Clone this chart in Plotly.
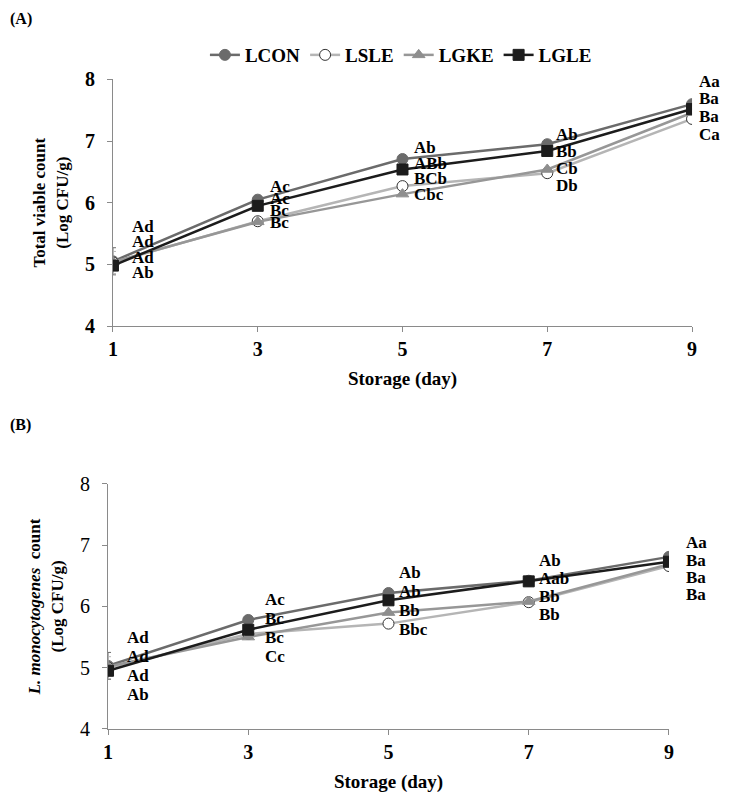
import plotly.graph_objects as go
from plotly.subplots import make_subplots

days = [1, 3, 5, 7, 9]
groups = ["LCON", "LSLE", "LGKE", "LGLE"]

# (A) total viable count, Log CFU/g
tvc_lcon = [5.05, 6.05, 6.71, 6.95, 7.60]
tvc_lsle = [5.03, 5.70, 6.27, 6.48, 7.36]
tvc_lgke = [5.04, 5.69, 6.14, 6.54, 7.46]
tvc_lgle = [4.98, 5.95, 6.54, 6.84, 7.52]
tvc_err_lcon = [0.22, 0.07, 0.03, 0.03, 0.03]
tvc_err_lsle = [0.18, 0.04, 0.03, 0.03, 0.03]

# (B) L. monocytogenes count, Log CFU/g
lm_lcon = [5.03, 5.78, 6.22, 6.42, 6.81]
lm_lsle = [5.00, 5.55, 5.72, 6.07, 6.66]
lm_lgke = [5.02, 5.50, 5.90, 6.08, 6.69]
lm_lgle = [4.95, 5.62, 6.10, 6.41, 6.73]
lm_err_lcon = [0.22, 0.07, 0.03, 0.03, 0.03]
lm_err_lsle = [0.18, 0.04, 0.03, 0.03, 0.03]

# significance letters, one list per group
tvc_letters = [
    ["Ad", "Ac", "Ab", "Ab", "Aa"],
    ["Ad", "Bc", "BCb", "Db", "Ca"],
    ["Ad", "Bc", "Cbc", "Cb", "Ba"],
    ["Ab", "Ac", "ABb", "Bb", "Ba"],
]
lm_letters = [
    ["Ad", "Ac", "Ab", "Ab", "Aa"],
    ["Ad", "Bc", "Bbc", "Bb", "Ba"],
    ["Ad", "Cc", "Bb", "Bb", "Ba"],
    ["Ab", "Bc", "Ab", "Aab", "Ba"],
]

SERIF = "Liberation Serif, Times New Roman, serif"
line_colors = ["#6b6b6b", "#b5b5b5", "#979797", "#1c1c1c"]
marker_fill = ["#6b6b6b", "white", "#8e8e8e", "#1c1c1c"]
marker_line = ["#6b6b6b", "#333333", "#8e8e8e", "#1c1c1c"]
symbols = ["circle", "circle", "triangle-up", "square"]

fig = make_subplots(rows=2, cols=1)

panels = [
    ([tvc_lcon, tvc_lsle, tvc_lgke, tvc_lgle], [tvc_err_lcon, tvc_err_lsle, None, None], tvc_letters),
    ([lm_lcon, lm_lsle, lm_lgke, lm_lgle], [lm_err_lcon, lm_err_lsle, None, None], lm_letters),
]

# letter placement (pixels) per day
lift = [[35, 13, 11, 10, 23], [28, 20, 20, 20, 14]]
step = [[15.5, 12, 15.5, 17, 17.7], [19, 18.7, 19, 18, 17.3]]
shift = [[17, 10, 10, 7, 5], [17, 15, 9, 8, 15]]

for p, (vals, errs, letters) in enumerate(panels):
    row = p + 1
    for k, g in enumerate(groups):
        err = None
        if errs[k] is not None:
            err = dict(type="data", array=errs[k], color=line_colors[k], thickness=1, width=3)
        fig.add_trace(go.Scatter(
            x=days, y=vals[k], name=g, mode="lines+markers",
            line=dict(color=line_colors[k], width=2.5),
            marker=dict(symbol=symbols[k], size=11, color=marker_fill[k],
                        line=dict(color=marker_line[k], width=1)),
            error_y=err, showlegend=(p == 0)), row=row, col=1)
    for i, d in enumerate(days):
        order = sorted(range(4), key=lambda k: -vals[k][i])
        top = vals[order[0]][i]
        for rank, k in enumerate(order):
            fig.add_annotation(x=d, y=top, text=letters[k][i], showarrow=False,
                               xanchor="left", yanchor="middle",
                               xshift=shift[p][i], yshift=lift[p][i] - rank * step[p][i],
                               font=dict(family=SERIF, size=17, color="black", weight="bold"),
                               row=row, col=1)

axis_common = dict(showgrid=False, zeroline=False, showline=True, linecolor="#8a8a8a",
                   linewidth=1, ticks="outside", ticklen=5, tickcolor="#8a8a8a")

fig.update_xaxes(axis_common, range=[1, 9], tickvals=days,
                 tickfont=dict(family=SERIF, size=20, color="black", weight="bold"),
                 title=dict(text="Storage (day)", standoff=12,
                            font=dict(family=SERIF, size=19, color="black", weight="bold")))
fig.update_yaxes(axis_common, range=[4, 8], tickvals=[4, 5, 6, 7, 8], ticklabelstandoff=8)

fig.update_layout(
    width=729, height=797,
    margin=dict(l=0, r=0, t=0, b=0, autoexpand=False),
    plot_bgcolor="white", paper_bgcolor="white",
    font=dict(family=SERIF, color="black"),
    xaxis=dict(domain=[0.1440, 0.9383], anchor="y"),
    yaxis=dict(domain=[0.6010, 0.9103],
               tickfont=dict(family=SERIF, size=20, color="black", weight="bold"),
               title=dict(text="Total viable count<br>(Log CFU/g)", standoff=12,
                          font=dict(family=SERIF, size=17, color="black", weight="bold"))),
    xaxis2=dict(domain=[0.1372, 0.9067], anchor="y2"),
    yaxis2=dict(domain=[0.0954, 0.4028],
                tickfont=dict(family=SERIF, size=20, color="black"),
                title=dict(text="<i>L. monocytogenes</i>  count<br>(Log CFU/g)", standoff=12,
                           font=dict(family=SERIF, size=17, color="black", weight="bold"))),
    legend=dict(orientation="h", x=0.539, xanchor="center", y=0.941, yanchor="middle",
                font=dict(family=SERIF, size=19, color="black", weight="bold"),
                itemwidth=30, tracegroupgap=0),
)

for txt, ypos in [("(A)", 1.0), ("(B)", 0.4906)]:
    fig.add_annotation(x=0, y=ypos, xref="paper", yref="paper", text=txt, showarrow=False,
                       xanchor="left", yanchor="top",
                       font=dict(family=SERIF, size=16, color="black", weight="bold"))

fig.write_html("out.html")
